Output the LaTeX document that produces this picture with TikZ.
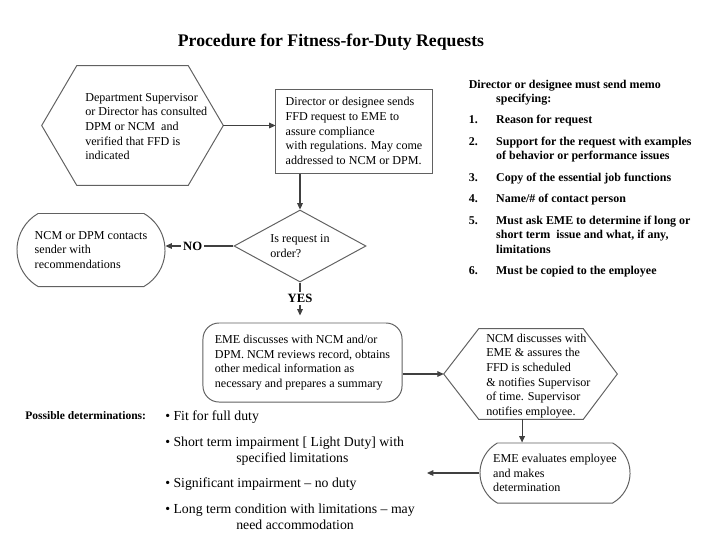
\documentclass[tikz,border=0pt]{standalone}
\usepackage{fontspec}
\setmainfont{Liberation Serif}
\usetikzlibrary{arrows.meta, shapes.geometric, shapes.misc, positioning}

\begin{document}
\begin{tikzpicture}[
  x=0.025cm, y=-0.025cm,
  font=\fontsize{8.6}{10.4}\selectfont,
  shapeline/.style={draw=black!62, line width=0.7pt},
  hexarea/.style={inner sep=0pt},
  txt/.style={align=left, inner sep=0pt},
  rectbox/.style={shapeline, rectangle, align=left, inner sep=0pt},
  decision/.style={shapeline, diamond, aspect=2, align=left, inner sep=0pt,
                   minimum width=3.3cm, minimum height=1.8cm},
  pill/.style={shapeline, rounded rectangle, rounded rectangle arc length=120,
               align=left, inner sep=0pt},
  flow/.style={-{Triangle[length=4.5pt, width=4pt]}, draw=black!75, line width=0.8pt},
  answer/.style={fill=white, inner sep=1.5pt, font=\fontsize{9}{10.4}\selectfont\bfseries},
  memo/.style={align=left, inner sep=0pt, font=\fontsize{8.5}{10.2}\selectfont\bfseries}
]
\useasboundingbox (0,0) rectangle (720,540);

\node[font=\fontsize{12.6}{15}\selectfont\bfseries] (title) at (331,42)
  {Procedure for Fitness-for-Duty Requests};

%% request path
\node[hexarea, minimum width=4.525cm, minimum height=2.975cm] (supv) at (132.5,125.5) {};
\draw[shapeline] (supv.west) -- ([xshift=0.875cm]supv.north west)
  -- ([xshift=-0.875cm]supv.north east) -- (supv.east)
  -- ([xshift=-0.875cm]supv.south east) -- ([xshift=0.875cm]supv.south west) -- cycle;
\node[txt, anchor=west] (supvtext) at (85,126.5)
  {Department Supervisor\\or Director has consulted\\DPM or NCM\ \ and\\verified that FFD is\\indicated};

\node[rectbox, minimum width=3.9cm, minimum height=2.1cm] (req) at (354,131)
  {Director or designee sends\\FFD request to EME to\\assure compliance\\with regulations. May come\\addressed to NCM or DPM.};
\draw[flow] (supv.east) -- (supv.east -| req.west);

\node[decision] (check) at (300,246) {Is request in\\order?};
\draw[flow] (req.south -| check.north) -- (check.north);

\node[pill, minimum width=3.7cm, minimum height=1.825cm] (back) at (91,250)
  {NCM or DPM contacts\\sender with\\recommendations};
\draw[flow] (check.west) -- node[answer, pos=0.6] {NO} (check.west -| back.east);

\node[rectbox, rounded corners=0.4cm, minimum width=4.975cm, minimum height=1.975cm] (review) at (302.5,362.5)
  {EME discusses with NCM and/or\\DPM. NCM reviews record, obtains\\other medical information as\\necessary and prepares a summary};
\draw[flow, shorten >=5pt] (check.south) -- node[answer, pos=0.4] {YES} (check.south |- review.north);

%% scheduling and evaluation
\node[hexarea, minimum width=4.325cm, minimum height=2.25cm] (sched) at (530.5,374) {};
\draw[shapeline] (sched.west) -- ([xshift=0.875cm]sched.north west)
  -- ([xshift=-0.85cm]sched.north east) -- (sched.east)
  -- ([xshift=-0.85cm]sched.south east) -- ([xshift=0.875cm]sched.south west) -- cycle;
\node[txt, anchor=west] (schedtext) at (486,376)
  {NCM discusses with\\EME \& assures the\\FFD is scheduled\\\& notifies Supervisor\\of time. Supervisor\\notifies employee.};
\draw[flow] (sched.west -| review.east) -- (sched.west);

\node[pill, minimum width=3.75cm, minimum height=1.5cm] (evaluate) at (555,473)
  {EME evaluates employee\\and makes\\determination};
\draw[flow] ([xshift=-6pt]sched.south) -- ([xshift=-6pt]sched.south |- evaluate.north);

\coordinate (detEnd) at (427,473);
\draw[flow] (evaluate.west) -- (detEnd);

%% outcomes
\node[inner sep=0pt, anchor=west, font=\fontsize{8.2}{10}\selectfont\bfseries] (possible) at (25,416)
  {Possible determinations:};
\node[txt, anchor=north west, font=\fontsize{9.8}{11.4}\selectfont] (outcomes) at (165,410.5)
  {• Fit for full duty\\[6.8pt]
   • Short term impairment [ Light Duty] with\\
   \hspace*{50.5pt}specified limitations\\[6.8pt]
   • Significant impairment -- no duty\\[6.8pt]
   • Long term condition with limitations -- may\\
   \hspace*{50.5pt}need accommodation};

%% memo requirements
\node[memo, anchor=north west] (memo) at (468.5,79.5)
  {Director or designee must send memo\\
   \hspace*{19.5pt}specifying:\\[5.1pt]
   \makebox[19.5pt][l]{1.}Reason for request\\[5.1pt]
   \makebox[19.5pt][l]{2.}Support for the request with examples\\
   \hspace*{19.5pt}of behavior or performance issues\\[5.1pt]
   \makebox[19.5pt][l]{3.}Copy of the essential job functions\\[5.1pt]
   \makebox[19.5pt][l]{4.}Name/\# of contact person\\[5.1pt]
   \makebox[19.5pt][l]{5.}Must ask EME to determine if long or\\
   \hspace*{19.5pt}short term\ \ issue and what, if any,\\
   \hspace*{19.5pt}limitations\\[5.1pt]
   \makebox[19.5pt][l]{6.}Must be copied to the employee};

\end{tikzpicture}
\end{document}
